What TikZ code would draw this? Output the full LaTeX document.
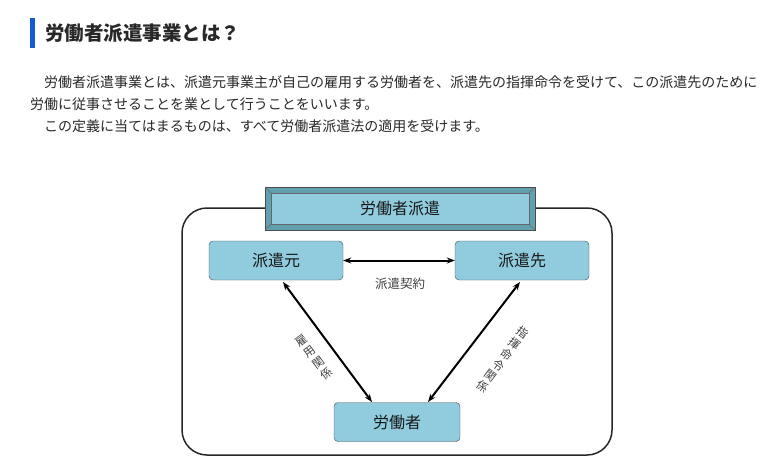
\documentclass[tikz,border=0pt]{standalone}
\usepackage{fontspec}
\setmainfont{Noto Sans CJK JP}
\usetikzlibrary{arrows.meta,positioning}
\definecolor{boxblue}{RGB}{144,204,222}
\definecolor{bevel}{RGB}{98,160,176}
\definecolor{barblue}{RGB}{20,90,210}
\definecolor{txt}{RGB}{40,40,40}
\tikzset{
  party/.style={draw=black!70,fill=boxblue,rounded corners=4pt,minimum width=134pt,
                minimum height=39pt,font=\fontsize{16}{16}\selectfont,text=black!90},
  rel/.style={{Stealth[length=8pt,width=6pt]}-{Stealth[length=8pt,width=6pt]},line width=2pt},
  vchar/.style={font=\fontsize{11.5}{11.5}\selectfont,text=black!75,inner sep=0pt},
  para/.style={anchor=west,font=\fontsize{14}{14}\selectfont,text=txt,inner sep=0pt}
}
\begin{document}
\begin{tikzpicture}[x=1pt,y=-1pt]
  \useasboundingbox (0,0) rectangle (763,472);

  % heading
  \fill[barblue] (30,18) rectangle (35,48);
  \node[anchor=west,inner sep=0pt,font=\fontsize{19.5}{19.5}\selectfont\bfseries,text=txt]
    (title) at (45,33) {労働者派遣事業とは？};

  % paragraph
  \node[para] (p1) at (44,82) {労働者派遣事業とは、派遣元事業主が自己の雇用する労働者を、派遣先の指揮命令を受けて、この派遣先のために};
  \node[para] (p2) at (30,104) {労働に従事させることを業として行うことをいいます。};
  \node[para] (p3) at (44,126) {この定義に当てはまるものは、すべて労働者派遣法の適用を受けます。};

  % frame
  \draw[line width=1.5pt,black!85,rounded corners=25pt] (182,208) rectangle (612,455);

  % header with bevel
  \fill[bevel] (265,187) rectangle (535,230);
  \draw[black!70] (265,187) rectangle (535,230);
  \draw[black!60] (265,187) -- (271,193) (535,187) -- (529,193)
                  (265,230) -- (271,224) (535,230) -- (529,224);
  \node[draw=black!60,fill=boxblue,minimum width=258pt,minimum height=31pt,
        font=\fontsize{16}{16}\selectfont,text=black!90] (head) at (400,208.5) {労働者派遣};

  % parties
  \node[party] (moto) at (276,260.5) {派遣元};
  \node[party] (saki) at (522,260.5) {派遣先};
  \node[party,minimum width=126pt] (worker) at (397,422) {労働者};

  % relations
  \draw[rel] (moto) -- (saki);
  \node[font=\fontsize{12.5}{12.5}\selectfont,text=black!75] (contract) at (400,284) {派遣契約};
  \draw[rel] (283,282) -- (372,402);
  \draw[rel] (520,282) -- (428,402);
  % slanted vertical labels, one character each
  \foreach \c [count=\i] in {雇,用,関,係}
    \node[vchar,rotate=37] (koyo\i) at (294+8.1*\i,330+10.8*\i) {\c};
  \foreach \c [count=\i] in {指,揮,命,令,関,係}
    \node[vchar,rotate=-37] (shiki\i) at (531-8.1*\i,322+10.8*\i) {\c};
\end{tikzpicture}
\end{document}
